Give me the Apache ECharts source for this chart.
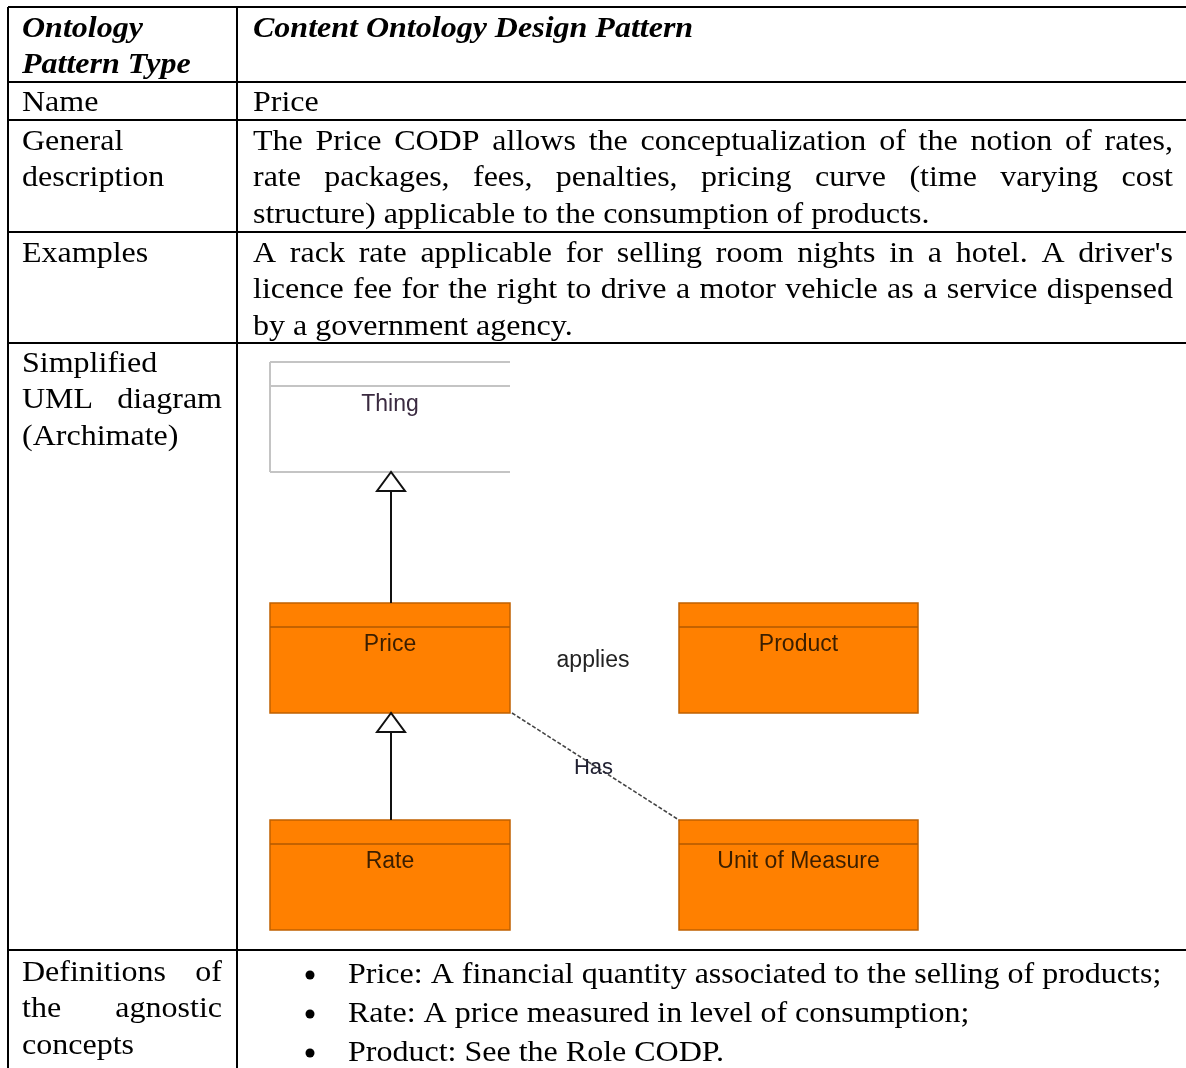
<!DOCTYPE html>
<html>
<head>
<meta charset="utf-8">
<script src="https://cdn.jsdelivr.net/npm/echarts@6/dist/echarts.min.js"></script>
<style>
html,body{margin:0;padding:0;background:#fff;}
#chart{width:1186px;height:1068px;}
</style>
</head>
<body>
<div id="chart"></div>
<script>
// ---------- DATA ----------
const headerLeftLines = ['Ontology', 'Pattern Type'];
const headerRight = 'Content Ontology Design Pattern';
const rowLabelLines = [
  ['Name'],
  ['General', 'description'],
  ['Examples'],
  ['Simplified', 'UML diagram', '(Archimate)'],
  ['Definitions of', 'the agnostic', 'concepts']
];
const rowLabelJustify = [
  [false],
  [false, false],
  [false],
  [false, true, false],
  [true, true, false]
];
const nameValue = 'Price';
const descriptionLines = [
  'The Price CODP allows the conceptualization of the notion of rates,',
  'rate packages, fees, penalties, pricing curve (time varying cost',
  'structure) applicable to the consumption of products.'
];
const exampleLines = [
  "A rack rate applicable for selling room nights in a hotel. A driver's",
  'licence fee for the right to drive a motor vehicle as a service dispensed',
  'by a government agency.'
];
const umlClasses = ['Thing', 'Price', 'Product', 'Rate', 'Unit of Measure'];
const umlGeneralizations = [['Price', 'Thing'], ['Rate', 'Price']];
const umlAssociations = [['Price', 'Unit of Measure', 'Has']];
const umlFreeLabels = ['applies'];
const definitions = [
  'Price: A financial quantity associated to the selling of products;',
  'Rate: A price measured in level of consumption;',
  'Product: See the Role CODP.'
];

// ---------- LAYOUT (positions/styles only) ----------
const W = 1186, H = 1068;
const serif = '"Liberation Serif", "Times New Roman", serif';
const FS = 29.5;
const SX = 1.085;
const fontN = FS + 'px ' + serif;
const fontBI = 'italic bold ' + FS + 'px ' + serif;
const colL = 8, colM = 237, colR = 1186;
const rowY = [7, 82, 120, 232, 343, 950, 1090];
const leftX = 22, leftR = 222, rightX = 253, rightR = 1173;
const lineH = 36.7;
const DY = 2;
const classBoxes = {
  'Thing': {x: 270, y: 362, w: 240, h: 110, style: 'plain'},
  'Price': {x: 270, y: 603, w: 240, h: 110, style: 'orange'},
  'Product': {x: 679, y: 603, w: 239, h: 110, style: 'orange'},
  'Rate': {x: 270, y: 820, w: 240, h: 110, style: 'orange'},
  'Unit of Measure': {x: 679, y: 820, w: 239, h: 110, style: 'orange'}
};
const freeLabelPos = {'applies': [593, 660]};

const mctx = document.createElement('canvas').getContext('2d');
function tw(t, font) { mctx.font = font; return mctx.measureText(t).width * SX; }

const g = [];
function txt(x, y, t, font, opts) {
  opts = opts || {};
  g.push({
    type: 'text', x: x, y: y + DY, z: 10, scaleX: opts.sx || 1,
    style: {
      text: t, font: font, fill: opts.fill || '#000',
      align: opts.align || 'left', verticalAlign: 'middle',
      textAlign: opts.align || 'left', textVerticalAlign: 'middle'
    }
  });
}
function stxt(x, y, t, font) { txt(x, y, t, font, {sx: SX}); }
function justified(x0, x1, y, line, font) {
  const words = line.split(/\s+/);
  if (words.length < 2) { stxt(x0, y, line, font); return; }
  const total = words.reduce((s, w) => s + tw(w, font), 0);
  const gap = (x1 - x0 - total) / (words.length - 1);
  let x = x0;
  words.forEach(w => { stxt(x, y, w, font); x += tw(w, font) + gap; });
}
function line(x1, y1, x2, y2, stroke, lw, dash) {
  g.push({type: 'line', z: 5, shape: {x1, y1, x2, y2},
    style: {stroke: stroke, lineWidth: lw, lineDash: dash || null}});
}

// table grid
rowY.slice(0, 6).forEach(y => line(colL, y, colR, y, '#000', 2));
line(colL, rowY[0], colL, H + 5, '#000', 2);
line(colM, rowY[0], colM, H + 5, '#000', 2);

// header
headerLeftLines.forEach((t, i) => stxt(leftX, 27 + i * lineH, t, fontBI));
stxt(rightX, 27, headerRight, fontBI);

// row labels
const rowFirstY = [101, 140, 252, 362, 971];
rowLabelLines.forEach((lines, r) => {
  lines.forEach((t, i) => {
    const y = rowFirstY[r] + i * lineH;
    if (rowLabelJustify[r][i]) justified(leftX, leftR, y, t, fontN);
    else stxt(leftX, y, t, fontN);
  });
});

// right column contents
stxt(rightX, 101, nameValue, fontN);
descriptionLines.forEach((t, i) => {
  const y = 140 + i * lineH;
  if (i < descriptionLines.length - 1) justified(rightX, rightR, y, t, fontN);
  else stxt(rightX, y, t, fontN);
});
exampleLines.forEach((t, i) => {
  const y = 252 + i * lineH;
  if (i < exampleLines.length - 1) justified(rightX, rightR, y, t, fontN);
  else stxt(rightX, y, t, fontN);
});
definitions.forEach((t, i) => {
  const y = 973 + i * 39;
  g.push({type: 'circle', z: 10, shape: {cx: 310, cy: y + DY, r: 4.5}, style: {fill: '#000'}});
  stxt(348, y, t, fontN);
});

// UML diagram
const sans = '"Liberation Sans", Arial, sans-serif';
const umlFont = '23px ' + sans;
umlClasses.forEach(name => {
  const b = classBoxes[name];
  if (b.style === 'plain') {
    line(b.x, b.y, b.x + b.w, b.y, '#c4c4c4', 2);
    line(b.x, b.y + 24, b.x + b.w, b.y + 24, '#c4c4c4', 2);
    line(b.x, b.y + b.h, b.x + b.w, b.y + b.h, '#c4c4c4', 2);
    line(b.x, b.y, b.x, b.y + b.h, '#c4c4c4', 2);
    txt(b.x + b.w / 2, b.y + 41, name, umlFont, {align: 'center', fill: '#3a2a40'});
  } else {
    g.push({type: 'rect', z: 3, shape: {x: b.x, y: b.y, width: b.w, height: b.h},
      style: {fill: '#ff8000', stroke: '#c06000', lineWidth: 1.5}});
    line(b.x, b.y + 24, b.x + b.w, b.y + 24, '#b05800', 1.5);
    txt(b.x + b.w / 2, b.y + 40, name, umlFont, {align: 'center', fill: '#3a1e00'});
  }
});
umlGeneralizations.forEach(([child, parent]) => {
  const c = classBoxes[child], p = classBoxes[parent];
  const cx = p.x + 121, apexY = p.y + p.h, baseY = apexY + 19;
  line(cx, baseY, cx, c.y, '#111', 2);
  g.push({type: 'polygon', z: 8, shape: {points: [[cx, apexY], [cx - 14, baseY], [cx + 14, baseY]]},
    style: {fill: '#fff', stroke: '#111', lineWidth: 2}});
});
umlAssociations.forEach(([a, b, label]) => {
  const A = classBoxes[a], B = classBoxes[b];
  const x1 = A.x + A.w + 2, y1 = A.y + A.h, x2 = B.x, y2 = B.y;
  line(x1, y1, x2, y2, '#444', 1.6, [4, 2]);
  txt((x1 + x2) / 2 - 2, (y1 + y2) / 2 - 1, label, '22px ' + sans, {align: 'center', fill: '#223'});
});
umlFreeLabels.forEach(l => {
  const p = freeLabelPos[l];
  txt(p[0], p[1] - 1, l, '23px ' + sans, {align: 'center', fill: '#222'});
});

const chart = echarts.init(document.getElementById('chart'), null, {renderer: 'canvas'});
chart.setOption({backgroundColor: '#fff', animation: false, graphic: g});
</script>
</body>
</html>
